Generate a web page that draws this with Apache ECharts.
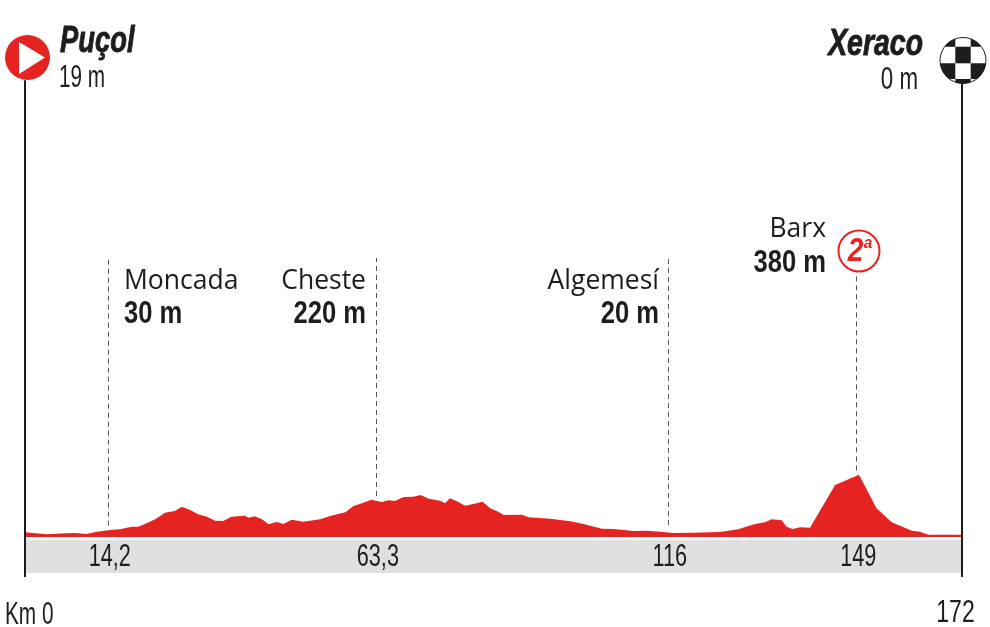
<!DOCTYPE html>
<html><head><meta charset="utf-8">
<style>html,body{margin:0;padding:0;background:#fff}#c{width:990px;height:627px}</style>
<script src="https://cdn.jsdelivr.net/npm/echarts@6/dist/echarts.min.js"></script>
</head><body><div id="c"></div>
<script>
const profileKm = [0,1.5,4,7.6,9.2,11.3,13.2,15.6,17.4,19.6,20.8,22.3,23.9,25.7,27.5,28.8,30.3,31.8,33.4,34.9,36.4,37.9,40.4,41,42.2,43.5,44.7,45.9,46.5,47.4,49,51.1,54.2,56,58.8,60.3,62.1,63.6,65.5,66.7,67.9,69.5,71.3,72.6,74.1,76.2,77.1,78,79.3,80.8,82.3,84,85.4,86.6,87.9,91.2,92.4,96.4,100.1,102.5,105.9,108,111.7,114.1,116.6,119,122.7,127.6,130.9,134,135.8,137.1,138.9,139.8,140.9,142.3,144.1,148.7,153.1,156.3,159.1,162.8,164.3,165.8,172];
const profileElev = [28,24,16,22,24,18,32,42,46,62,62,82,106,146,156,182,162,136,122,98,96,122,128,116,124,106,76,88,88,78,104,92,106,126,148,186,206,224,210,220,216,240,242,252,230,218,202,232,214,188,198,212,172,156,132,134,118,110,94,78,50,48,36,38,32,24,26,30,46,78,88,106,100,62,48,58,56,312,374,172,88,38,32,14,14];
const placeNames = ['Moncada','Cheste','Algemesí','Barx'];
const placeHeights = ['30 m','220 m','20 m','380 m'];
const placeKm = [15.2,64.4,118,152.6];
const stemEnd = [68,246,72,400];
const stemTop = [1674,1674,1674,1590];
const kmLabels = ['14,2','63,3','116','149'];
const startName = 'Puçol', startHeight = '19 m', startKm = 'Km 0';
const finishName = 'Xeraco', finishHeight = '0 m', finishKm = '172';
const climbCat = '2', climbSup = 'a';

const RED = '#e52421', INK = '#1d1d1b';
const NARROW = '"Liberation Sans Narrow","Liberation Sans",sans-serif';
const SANS = '"Open Sans",sans-serif';
const el = echarts.init(document.getElementById('c'), null, {renderer: 'canvas'});
el.setOption({
  animation: false,
  grid: {left: 25, right: 28, top: 37, bottom: 50},
  xAxis: {type: 'value', min: 0, max: 172, show: false},
  yAxis: {type: 'value', min: -240, max: 3000, show: false},
  series: [{
    type: 'line',
    data: profileKm.map((k, i) => [k, profileElev[i]]),
    showSymbol: false, symbol: 'none',
    lineStyle: {width: 0},
    areaStyle: {color: RED, opacity: 1, origin: 0},
    z: 3, clip: false,
    markArea: {silent: true, itemStyle: {color: '#e0e0e0'}, data: [[{coord: [0, -216]}, {coord: [172, -16]}]]},
    markLine: {
      silent: true, symbol: 'none', label: {show: false},
      data: [
        [{coord: [0, -240], lineStyle: {color: INK, width: 2, type: 'solid'}}, {coord: [0, 2740]}],
        [{coord: [172, -240], lineStyle: {color: INK, width: 2, type: 'solid'}}, {coord: [172, 2720]}]
      ].concat(placeKm.map((k, i) => [
        {coord: [k, stemEnd[i]], lineStyle: {color: '#555', width: 1, type: [5, 4]}},
        {coord: [k, stemTop[i]]}
      ]))
    }
  }]
});

const xOf = km => el.convertToPixel({gridIndex: 0}, [km, 0])[0];
function txt(t, x, y, o) {
  const fill = o.c || INK;
  const style = {
    text: t, fill: fill,
    font: (o.st || 'normal') + ' ' + (o.w || 'normal') + ' ' + o.s + 'px ' + (o.f || NARROW),
    textAlign: o.a || 'left', textVerticalAlign: 'middle'
  };
  if (o.heavy) { style.stroke = fill; style.lineWidth = o.heavy; }
  return {type: 'text', x: x, y: y, scaleX: o.sx || 1, z: 10, style: style};
}
const g = [];
// start marker
g.push({type: 'circle', z: 9, shape: {cx: 27.5, cy: 57.5, r: 22.5}, style: {fill: RED}});
g.push({type: 'polygon', z: 10, shape: {points: [[19, 42], [45, 57.5], [19, 74]]}, style: {fill: '#fff'}});
// finish marker: chequered disc
const fx = 963, fy = 60.5, fr = 23;
g.push({type: 'circle', z: 9, shape: {cx: fx, cy: fy, r: fr}, style: {fill: '#fff', stroke: INK, lineWidth: 1}});
const cols = [940, 955.3, 970.7, 986], rows = [37, 46.7, 63.3, 79, 85];
[[0, 0], [2, 0], [1, 1], [0, 2], [2, 2], [1, 3]].forEach(function (c) {
  const x0 = cols[c[0]], x1 = cols[c[0] + 1], y0 = rows[c[1]], y1 = rows[c[1] + 1];
  const top = [], bot = [];
  for (let n = 0; n <= 24; n++) {
    const x = x0 + (x1 - x0) * n / 24;
    const d = fr * fr - (x - fx) * (x - fx);
    if (d < 0) continue;
    const s = Math.sqrt(d);
    const a = Math.max(y0, fy - s), b = Math.min(y1, fy + s);
    if (a >= b) continue;
    top.push([x, a]);
    bot.unshift([x, b]);
  }
  g.push({type: 'polygon', z: 10, shape: {points: top.concat(bot)}, style: {fill: INK}});
});
// end titles
g.push(txt(startName, 60, 42, {s: 36, w: 'bold', st: 'italic', sx: 0.76, heavy: 0.9}));
g.push(txt(startHeight, 59, 78, {s: 31, sx: 0.67}));
g.push(txt(finishName, 923, 45, {s: 36, w: 'bold', st: 'italic', a: 'right', sx: 0.79, heavy: 0.9}));
g.push(txt(finishHeight, 918, 80, {s: 31, a: 'right', sx: 0.72}));
// place labels
const nameX = [124, 366, 659, 826], alignX = ['left', 'right', 'right', 'right'];
const nameY = [281, 281, 281, 229], hY = [314, 314, 314, 263];
placeNames.forEach(function (n, i) {
  g.push(txt(n, nameX[i], nameY[i], {s: 26.5, f: SANS, a: alignX[i]}));
  g.push(txt(placeHeights[i], nameX[i], hY[i], {s: 32, w: 'bold', a: alignX[i], sx: 0.8}));
});
// km labels
kmLabels.forEach(function (t, i) {
  g.push(txt(t, xOf(placeKm[i]) + 2, 557, {s: 31, a: 'center', sx: 0.7}));
});
g.push(txt(startKm, 5, 615, {s: 32, sx: 0.65}));
g.push(txt(finishKm, 955.5, 613, {s: 32, a: 'center', sx: 0.72}));
// climb badge
g.push({type: 'circle', z: 9, shape: {cx: 859, cy: 251, r: 20.5}, style: {fill: '#fff', stroke: RED, lineWidth: 2}});
g.push(txt(climbCat, 855.5, 252, {s: 33, w: 'bold', st: 'italic', c: RED, a: 'center', sx: 0.85}));
g.push(txt(climbSup, 868, 243, {s: 17, w: 'bold', st: 'italic', c: RED, a: 'center', sx: 0.9}));
el.setOption({graphic: {elements: g}});
</script></body></html>
